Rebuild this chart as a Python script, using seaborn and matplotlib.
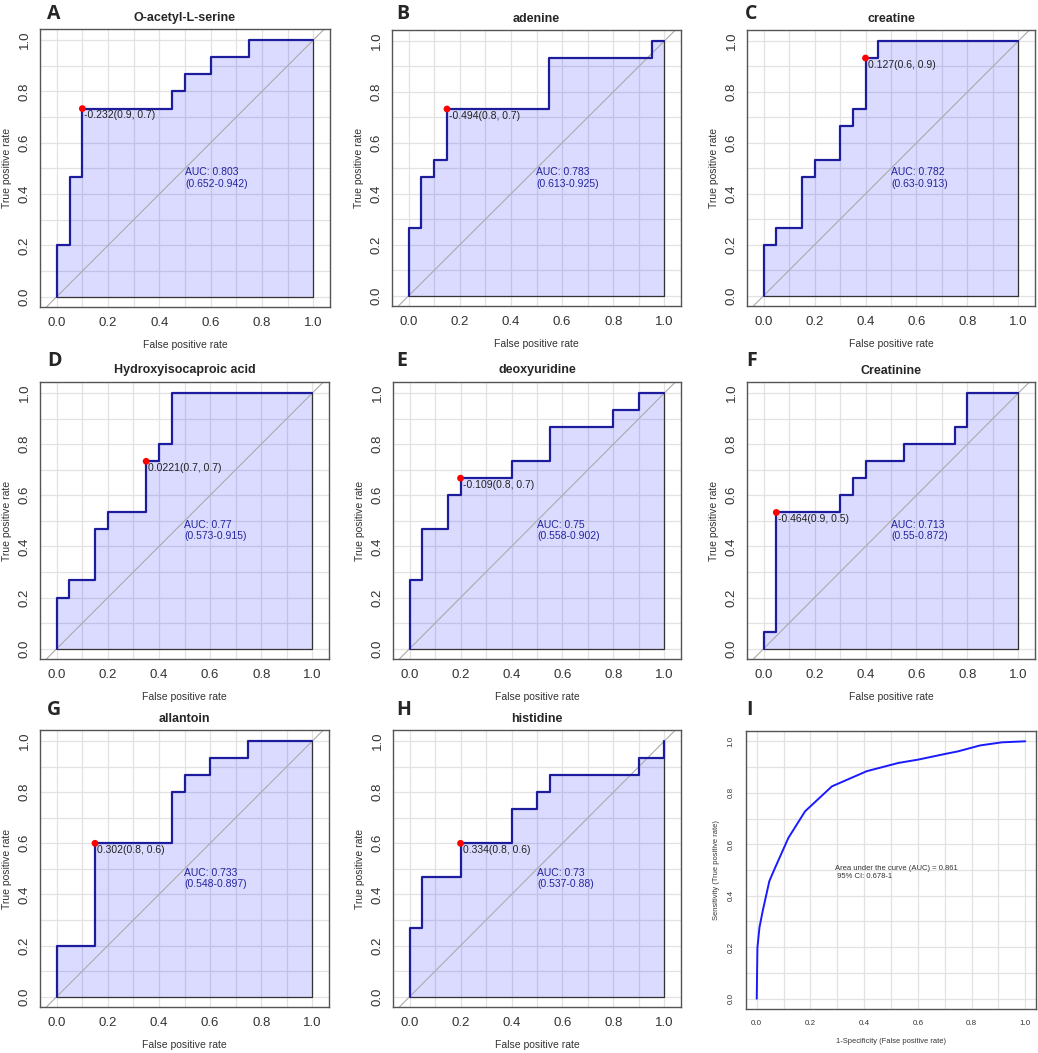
import numpy as np
import pandas as pd
import matplotlib
matplotlib.use("Agg")
import matplotlib.pyplot as plt
import seaborn as sns

sns.set_theme(style="white")
plt.rcParams['font.family'] = ['Liberation Sans', 'DejaVu Sans']

# ---- data ----
titles = ["O-acetyl-L-serine", "adenine", "creatine",
          "Hydroxyisocaproic acid", "deoxyuridine", "Creatinine",
          "allantoin", "histidine"]
letters = ["A", "B", "C", "D", "E", "F", "G", "H", "I"]

fpr_A = [0, 0, 0.05, 0.05, 0.1, 0.1, 0.45, 0.45, 0.5, 0.5, 0.6, 0.6, 0.75, 0.75, 1]
tpr_A = [0, 0.2, 0.2, 0.467, 0.467, 0.733, 0.733, 0.8, 0.8, 0.867, 0.867, 0.933, 0.933, 1, 1]

fpr_B = [0, 0, 0.05, 0.05, 0.1, 0.1, 0.15, 0.15, 0.55, 0.55, 0.95, 0.95, 1]
tpr_B = [0, 0.267, 0.267, 0.467, 0.467, 0.533, 0.533, 0.733, 0.733, 0.933, 0.933, 1, 1]

fpr_C = [0, 0, 0.05, 0.05, 0.15, 0.15, 0.2, 0.2, 0.3, 0.3, 0.35, 0.35, 0.4, 0.4, 0.45, 0.45, 1]
tpr_C = [0, 0.2, 0.2, 0.267, 0.267, 0.467, 0.467, 0.533, 0.533, 0.667, 0.667, 0.733, 0.733, 0.933, 0.933, 1, 1]

fpr_D = [0, 0, 0.05, 0.05, 0.15, 0.15, 0.2, 0.2, 0.35, 0.35, 0.4, 0.4, 0.45, 0.45, 1]
tpr_D = [0, 0.2, 0.2, 0.267, 0.267, 0.467, 0.467, 0.533, 0.533, 0.733, 0.733, 0.8, 0.8, 1, 1]

fpr_E = [0, 0, 0.05, 0.05, 0.15, 0.15, 0.2, 0.2, 0.4, 0.4, 0.55, 0.55, 0.8, 0.8, 0.9, 0.9, 1]
tpr_E = [0, 0.267, 0.267, 0.467, 0.467, 0.6, 0.6, 0.667, 0.667, 0.733, 0.733, 0.867, 0.867, 0.933, 0.933, 1, 1]

fpr_F = [0, 0, 0.05, 0.05, 0.3, 0.3, 0.35, 0.35, 0.4, 0.4, 0.55, 0.55, 0.75, 0.75, 0.8, 0.8, 1]
tpr_F = [0, 0.067, 0.067, 0.533, 0.533, 0.6, 0.6, 0.667, 0.667, 0.733, 0.733, 0.8, 0.8, 0.867, 0.867, 1, 1]

fpr_G = [0, 0, 0.15, 0.15, 0.45, 0.45, 0.5, 0.5, 0.6, 0.6, 0.75, 0.75, 1]
tpr_G = [0, 0.2, 0.2, 0.6, 0.6, 0.8, 0.8, 0.867, 0.867, 0.933, 0.933, 1, 1]

fpr_H = [0, 0, 0.05, 0.05, 0.2, 0.2, 0.4, 0.4, 0.5, 0.5, 0.55, 0.55, 0.9, 0.9, 1, 1]
tpr_H = [0, 0.267, 0.267, 0.467, 0.467, 0.6, 0.6, 0.733, 0.733, 0.8, 0.8, 0.867, 0.867, 0.933, 0.933, 1]

fprs = [fpr_A, fpr_B, fpr_C, fpr_D, fpr_E, fpr_F, fpr_G, fpr_H]
tprs = [tpr_A, tpr_B, tpr_C, tpr_D, tpr_E, tpr_F, tpr_G, tpr_H]

best_x = [0.1, 0.15, 0.4, 0.35, 0.2, 0.05, 0.15, 0.2]
best_y = [0.733, 0.733, 0.933, 0.733, 0.667, 0.533, 0.6, 0.6]
best_lab = ["-0.232(0.9, 0.7)", "-0.494(0.8, 0.7)", "0.127(0.6, 0.9)",
            "0.0221(0.7, 0.7)", "-0.109(0.8, 0.7)", "-0.464(0.9, 0.5)",
            "0.302(0.8, 0.6)", "0.334(0.8, 0.6)"]
auc = ["0.803", "0.783", "0.782", "0.77", "0.75", "0.713", "0.733", "0.73"]
ci = ["0.652-0.942", "0.613-0.925", "0.63-0.913", "0.573-0.915",
      "0.558-0.902", "0.55-0.872", "0.548-0.897", "0.537-0.88"]

# combined model (panel I)
fpr_I = [0, 0.0025, 0.01, 0.022, 0.047, 0.068, 0.118, 0.18, 0.28, 0.41,
         0.528, 0.602, 0.702, 0.75, 0.832, 0.913, 1]
tpr_I = [0, 0.198, 0.276, 0.34, 0.457, 0.508, 0.625, 0.728, 0.825, 0.884,
         0.916, 0.929, 0.951, 0.961, 0.984, 0.996, 1]
auc_I = "0.861"
ci_I = "0.678-1"

# ---- layout (pixel boxes: left, top, right, bottom) ----
W, H = 1038, 1053
boxes = [(40, 29, 330, 307), (392, 30, 681, 306), (747, 30, 1035, 306),
         (40, 382, 329, 659), (393, 382, 681, 659), (747, 382, 1035, 659),
         (40, 730, 329, 1007), (393, 730, 681, 1007), (746, 731, 1036, 1009)]
letter_pos = [(47, 14), (396, 14), (745, 14),
              (47, 361), (396, 361), (746, 361),
              (47, 710), (396, 710), (746, 710)]

fig = plt.figure(figsize=(W / 100, H / 100), dpi=100)

navy = "#1c1c9c"
gridc = "#e2e2e2"


def make_axes(box):
    l, t, r, b = box
    ax = fig.add_axes([l / W, 1 - b / H, (r - l) / W, (b - t) / H])
    return ax, (r - l), (b - t)


def style(ax, fs):
    ax.set_xticks([0, 0.2, 0.4, 0.6, 0.8, 1.0])
    ax.set_yticks([0, 0.2, 0.4, 0.6, 0.8, 1.0])
    ax.set_xticks(np.arange(0.1, 1.0, 0.2), minor=True)
    ax.set_yticks(np.arange(0.1, 1.0, 0.2), minor=True)
    ax.set_xticklabels(["0.0", "0.2", "0.4", "0.6", "0.8", "1.0"])
    ax.set_yticklabels(["0.0", "0.2", "0.4", "0.6", "0.8", "1.0"])
    ax.grid(True, which="both", color=gridc, lw=0.9, zorder=0)
    ax.set_axisbelow(True)
    ax.tick_params(which="both", length=0, labelsize=fs, colors="#333333")
    ax.tick_params(axis="y", labelrotation=90)
    for lab in ax.get_yticklabels():
        lab.set_va("center")
    for s in ax.spines.values():
        s.set_color("#555555")
        s.set_linewidth(1.0)


for i in range(8):
    ax, wpx, hpx = make_axes(boxes[i])
    fx, ty = fprs[i], tprs[i]
    ax.set_xlim(-0.065, 1.065)
    ax.set_ylim(-0.04, 1.043)
    style(ax, 9.5)
    ax.tick_params(axis="x", pad=7.2)
    ax.tick_params(axis="y", pad=6.5)

    ax.axline((0, 0), (1, 1), color="#aaaaaa", lw=0.8, zorder=2)
    ax.fill(fx + [1, 0], ty + [0, 0], facecolor="#0000ff", alpha=0.14,
            edgecolor="none", zorder=1)
    # right and bottom edge of the auc polygon
    ax.plot([1, 1, 0], [ty[-1] if fx[-1] == 1 and ty[-1] < 1 else 1, 0, 0],
            color="#333333", lw=0.9, zorder=3)
    df = pd.DataFrame({"fpr": fx, "tpr": ty})
    sns.lineplot(data=df, x="fpr", y="tpr", sort=False, estimator=None,
                 color=navy, lw=1.6, ax=ax, zorder=4)
    sns.scatterplot(x=[best_x[i]], y=[best_y[i]], color="red", s=24,
                    edgecolor="none", ax=ax, zorder=5)
    ax.text(best_x[i] + 0.008, best_y[i] - 0.006, best_lab[i], fontsize=7.5,
            color="#222222", ha="left", va="top", zorder=6)
    ax.text(0.5, 0.462, "AUC: " + auc[i] + "\n(" + ci[i] + ")", fontsize=7.5,
            color="#2424a0", ha="left", va="center", linespacing=1.2, zorder=6)
    ax.set_xlabel("")
    ax.set_ylabel("")
    ax.text(0.5, 1 + 11.5 / hpx, titles[i], transform=ax.transAxes,
            ha="center", va="center", fontsize=9, fontweight="bold")
    ax.text(0.5, -38 / hpx, "False positive rate", transform=ax.transAxes,
            ha="center", va="center", fontsize=7.5, color="#333333")
    ax.text(-33 / wpx, 0.5, "True positive rate", transform=ax.transAxes,
            ha="center", va="center", fontsize=7.5, color="#333333", rotation=90)

# panel I
ax, wpx, hpx = make_axes(boxes[8])
ax.set_xlim(-0.04, 1.04)
ax.set_ylim(-0.04, 1.04)
style(ax, 5.8)
ax.tick_params(axis="x", pad=8)
ax.tick_params(axis="y", pad=8)
dfI = pd.DataFrame({"fpr": fpr_I, "tpr": tpr_I})
sns.lineplot(data=dfI, x="fpr", y="tpr", sort=False, estimator=None,
             color="#1a1aff", lw=1.4, ax=ax, zorder=4)
ax.set_xlabel("")
ax.set_ylabel("")
ax.text(0.292, 0.489, "Area under the curve (AUC) = " + auc_I + "\n 95% CI: " + ci_I,
        fontsize=5.5, color="#333333", ha="left", va="center", linespacing=1.2)
ax.text(0.5, -32.5 / hpx, "1-Specificity (False positive rate)", transform=ax.transAxes,
        ha="center", va="center", fontsize=5.4, color="#333333")
ax.text(-29 / wpx, 0.5, "Sensitivity (True positive rate)", transform=ax.transAxes,
        ha="center", va="center", fontsize=5.4, color="#333333", rotation=90)

for k, (lx, ly) in enumerate(letter_pos):
    fig.text(lx / W, 1 - ly / H, letters[k], ha="left", va="center",
             fontsize=14, fontweight="bold", family=["Open Sans", "DejaVu Sans"])

fig.savefig("out.png", dpi=100)
